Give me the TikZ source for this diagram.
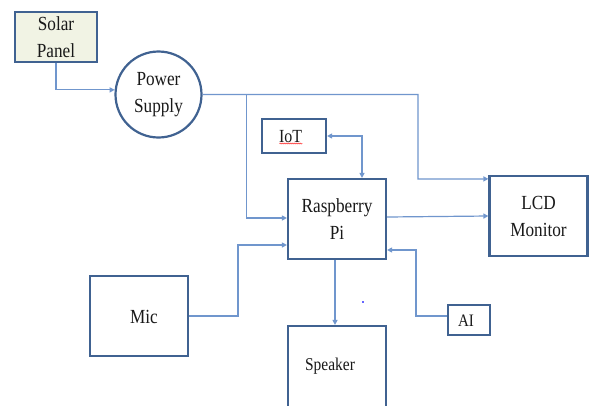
\documentclass[tikz,border=0pt]{standalone}
\usepackage{fontspec}
\setmainfont[FakeStretch=0.86]{Liberation Serif}
\usetikzlibrary{arrows.meta,decorations.pathmorphing}
\definecolor{boxblue}{RGB}{64,98,145}
\definecolor{lineblue}{RGB}{112,150,205}
\definecolor{solarfill}{RGB}{241,243,228}
\definecolor{txtc}{RGB}{25,25,25}
\begin{document}
\begin{tikzpicture}[x=1pt,y=-1pt,
  box/.style={draw=boxblue,line width=2.2pt,fill=white,inner sep=0pt,align=center,
    text=txtc,font=\fontsize{20}{27}\selectfont},
  txt/.style={inner sep=0pt,text=txtc,font=\fontsize{20}{27}\selectfont},
  conn/.style={draw=lineblue,line width=1.2pt,-{Triangle[length=5pt,width=5pt]}},
  conn2/.style={draw=lineblue,line width=1.2pt,{Triangle[length=5pt,width=5pt]}-{Triangle[length=5pt,width=5pt]}}]
\useasboundingbox (0,0) rectangle (589,405);
\clip (0,0) rectangle (589,405);
\fill[white] (0,0) rectangle (589,405);

% nodes
\node[box,fill=solarfill,minimum width=82pt,minimum height=50pt] (sp) at (56,37) {Solar\\Panel};
\node[box,circle,minimum size=86pt] (ps) at (158.5,94.5) {Power\\Supply};
\node[box,minimum width=64pt,minimum height=34pt,font=\fontsize{18.5}{22}\selectfont] (iot) at (294,136) {};
\node[txt,font=\fontsize{18.5}{22}\selectfont,anchor=base] (iott) at (290.5,142) {IoT};
\node[box,minimum width=98pt,minimum height=80pt] (rpi) at (337,219) {Raspberry\\Pi};
\node[box,minimum width=98pt,minimum height=80pt] (lcd) at (538.5,216) {LCD\\Monitor};
\node[box,minimum width=98pt,minimum height=80pt] (mic) at (139,316) {};
\node[txt,anchor=base] (mict) at (144,323) {Mic};
\node[box,minimum width=98pt,minimum height=100pt] (spk) at (337,376) {};
\node[txt,anchor=base,font=\fontsize{18}{22}\selectfont] (spkt) at (330,370) {Speaker};
\node[box,minimum width=42pt,minimum height=30pt,font=\fontsize{17.5}{22}\selectfont] (ai) at (469,320) {};
\node[txt,anchor=base,font=\fontsize{17.5}{22}\selectfont] (ait) at (466,326) {AI};

% spellcheck underline under IoT
\draw[red,line width=0.4pt,decorate,decoration={snake,amplitude=0.6pt,segment length=2pt}]
  ([xshift=-11pt,yshift=-1.5pt]iott.base) -- ([xshift=12pt,yshift=-1.5pt]iott.base);

% stray dot
\fill[blue!60] (362.2,301.2) rectangle (363.8,302.8);

% connectors
\draw[conn] (sp.south) |- (ps.174);
\draw[conn] (ps.east) -| (418,179) -- ([yshift=-4pt]lcd.north west);
\draw[conn] ([xshift=43.5pt]ps.east) |- ([yshift=1pt]rpi.west);
\draw[conn2] (iot.east) -| ([xshift=25pt]rpi.north);
\draw[conn] ([yshift=2pt]rpi.east) -- (lcd.west);
\draw[conn] (mic.east) -- (238,316) |- ([yshift=-26pt]rpi.west);
\draw[conn] ([xshift=-2pt]rpi.south) -- ([xshift=-2pt]spk.north);
\draw[conn] ([yshift=4pt]ai.west) -| (416,250) -- ([yshift=-31pt]rpi.east);
\end{tikzpicture}
\end{document}
